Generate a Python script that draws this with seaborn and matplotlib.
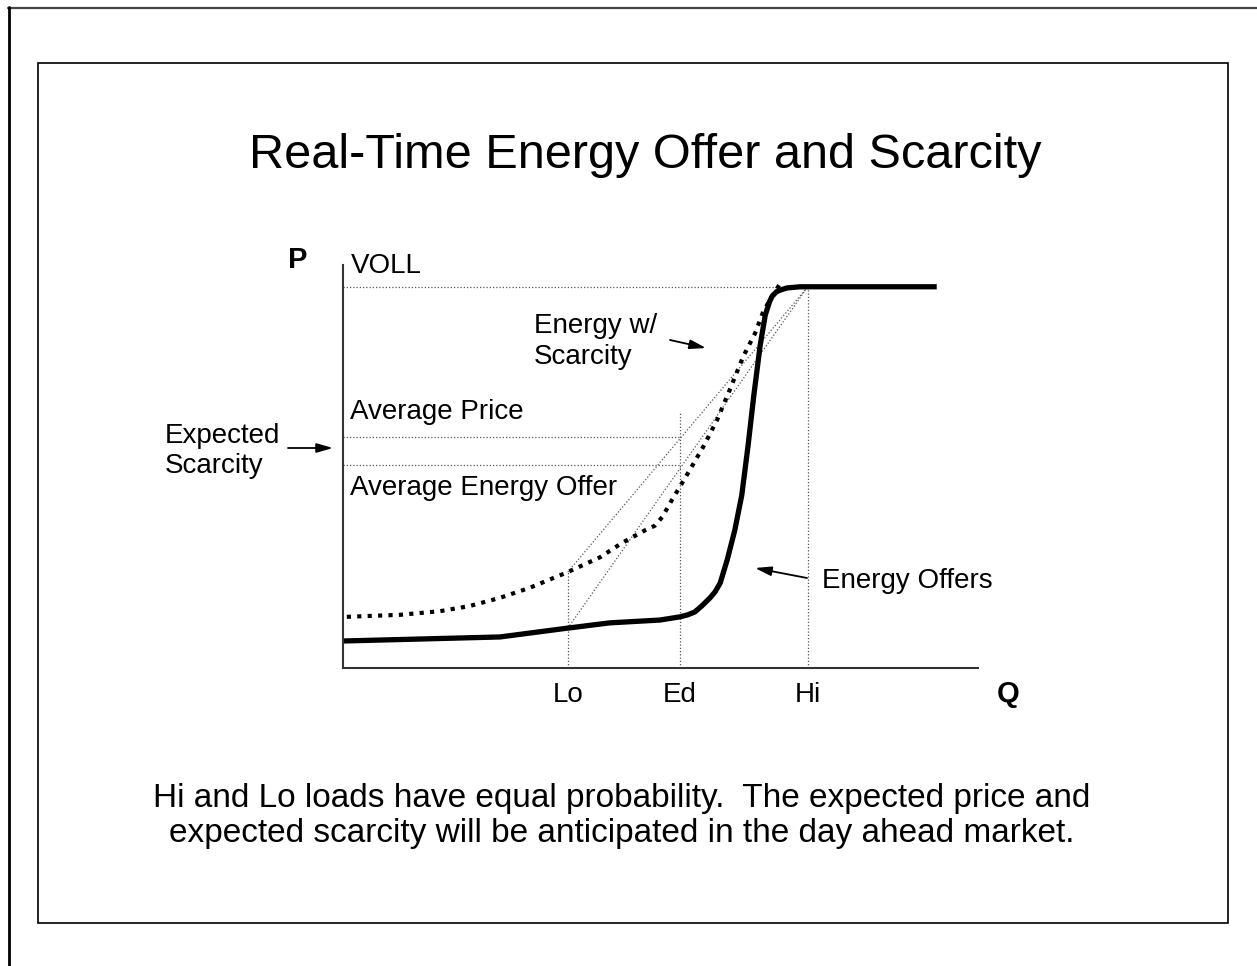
import matplotlib
matplotlib.use("Agg")
import matplotlib.pyplot as plt
import seaborn as sns
from matplotlib.lines import Line2D
from matplotlib.patches import Rectangle

# ---- data (Q on 0-100, P on 0-100) ----
offer_q = [0, 24.7, 35.4, 42.0, 49.9, 53.1, 54.3, 55.4, 56.5, 57.8, 58.6, 59.4,
           60.5, 61.7, 62.8, 63.8, 64.7, 65.7, 66.5, 67.2, 67.6, 68.3, 69.1,
           69.9, 72.0, 93.5]
offer_p = [6.7, 7.7, 9.9, 11.2, 11.9, 12.7, 13.2, 13.9, 15.4, 17.4, 18.9, 21.1,
           26.8, 34.2, 42.9, 55.3, 67.7, 80.1, 87.6, 91.0, 92.3, 93.4, 93.9,
           94.3, 94.6, 94.6]

scarcity_q = [0.6, 9.0, 15.3, 20.0, 24.7, 29.4, 35.4, 40.5, 43.9, 47.6, 49.1,
              50.3, 51.8, 53.4, 54.6, 56.7, 58.9, 60.9, 63.0, 64.9, 66.1, 67.2,
              68.8]
scarcity_p = [12.7, 13.2, 14.1, 15.4, 17.4, 19.9, 23.8, 27.5, 31.0, 34.2, 35.3,
              37.5, 41.7, 45.9, 49.1, 54.8, 61.5, 69.0, 77.2, 83.1, 88.1, 91.3,
              95.3]

load_names = ["Lo", "Ed", "Hi"]
load_q = [35.4, 53.1, 73.2]

voll = 94.6
voll_line_end = 69.0
avg_price = 57.3
avg_offer = 50.4
ed_top = 63.5
scarcity_at_lo = 23.8
offer_at_lo = 9.9

W, H = 1257, 966

sns.set_theme(style="white")
plt.rcParams["font.family"] = ["Liberation Sans", "DejaVu Sans"]
plt.rcParams["text.color"] = "black"


def fx(x):
    return x / W


def fy(y):
    return 1 - y / H


fig = plt.figure(figsize=(W / 100, H / 100), dpi=100)
fig.patch.set_facecolor("white")

ax = fig.add_axes([fx(343), fy(668), 635 / W, 403 / H])
ax.set_xlim(0, 100)
ax.set_ylim(0, 100)
ax.set_facecolor("none")

lo, ed, hi = load_q

# thin dotted guide lines
guide = dict(color="#555555", lw=0.9, linestyle=(0, (1, 1.6)))
ax.plot([0, voll_line_end], [voll, voll], **guide)
ax.plot([0, ed], [avg_price, avg_price], **guide)
ax.plot([0, ed], [avg_offer, avg_offer], **guide)
ax.plot([lo, lo], [0, scarcity_at_lo], **guide)
ax.plot([ed, ed], [0, ed_top], **guide)
ax.plot([hi, hi], [0, voll], **guide)
ax.plot([lo, hi], [scarcity_at_lo, voll], **guide)
ax.plot([lo, hi], [offer_at_lo, voll], **guide)

# energy offer curve and energy-with-scarcity curve
sns.lineplot(x=offer_q, y=offer_p, ax=ax, color="black", lw=3.8,
             solid_joinstyle="round", solid_capstyle="butt", sort=False)
sns.lineplot(x=scarcity_q, y=scarcity_p, ax=ax, color="black", lw=3.0,
             linestyle=(0, (1, 1.5)), dash_capstyle="butt", sort=False)

for side in ["top", "right"]:
    ax.spines[side].set_visible(False)
for side in ["left", "bottom"]:
    ax.spines[side].set_color("#333333")
    ax.spines[side].set_linewidth(1.5)
ax.set_xticks([])
ax.set_yticks([])
ax.set_xlabel("")
ax.set_ylabel("")

# ---- text ----
lab = dict(fontsize=20, color="black", va="baseline")
fig.text(fx(645), fy(168), "Real-Time Energy Offer and Scarcity",
         fontsize=35, ha="center", va="baseline", color="black")
fig.text(fx(298), fy(268), "P", fontsize=21, weight="bold", ha="center",
         va="baseline", color="black")
fig.text(fx(1008), fy(702), "Q", fontsize=21, weight="bold", ha="center",
         va="baseline", color="black")
fig.text(fx(351), fy(273), "VOLL", ha="left", **lab)
fig.text(fx(534), fy(333), "Energy w/", ha="left", **lab)
fig.text(fx(534), fy(364), "Scarcity", ha="left", **lab)
fig.text(fx(350), fy(419), "Average Price", ha="left", **lab)
fig.text(fx(350), fy(495), "Average Energy Offer", ha="left", **lab)
fig.text(fx(165), fy(443), "Expected", ha="left", **lab)
fig.text(fx(165), fy(473), "Scarcity", ha="left", **lab)
fig.text(fx(822), fy(588), "Energy Offers", ha="left", **lab)

for name, q in zip(load_names, load_q):
    ax.text(q, -0.085, name, transform=ax.get_xaxis_transform(),
            ha="center", va="baseline", fontsize=20, color="black")

cap = dict(fontsize=24, ha="center", va="baseline", color="black")
fig.text(fx(622), fy(807),
         "Hi and Lo loads have equal probability.  The expected price and", **cap)
fig.text(fx(622), fy(842),
         "expected scarcity will be anticipated in the day ahead market.", **cap)

# ---- arrows ----
arrow = dict(arrowstyle="-|>,head_length=0.7,head_width=0.2", color="black",
             lw=1.3, mutation_scale=14, shrinkA=0, shrinkB=0)
for (x0, y0), (x1, y1) in [((288, 448), (333, 448)),
                           ((670, 340), (706, 348)),
                           ((807, 578), (755, 568))]:
    ax.annotate("", xy=(fx(x1), fy(y1)), xytext=(fx(x0), fy(y0)),
                xycoords="figure fraction", textcoords="figure fraction",
                arrowprops=arrow)

# ---- frames ----
fig.add_artist(Rectangle((fx(38), fy(923)), fx(1228) - fx(38), (923 - 63) / H,
                         fill=False, ec="black", lw=1.2, transform=fig.transFigure))
fig.add_artist(Line2D([fx(8), 1], [fy(7.5), fy(7.5)], color="#444444", lw=1.6,
                      transform=fig.transFigure))
fig.add_artist(Line2D([fx(8.5), fx(8.5)], [fy(7), 0], color="black", lw=2.0,
                      transform=fig.transFigure))

fig.savefig("out.png", dpi=100)
